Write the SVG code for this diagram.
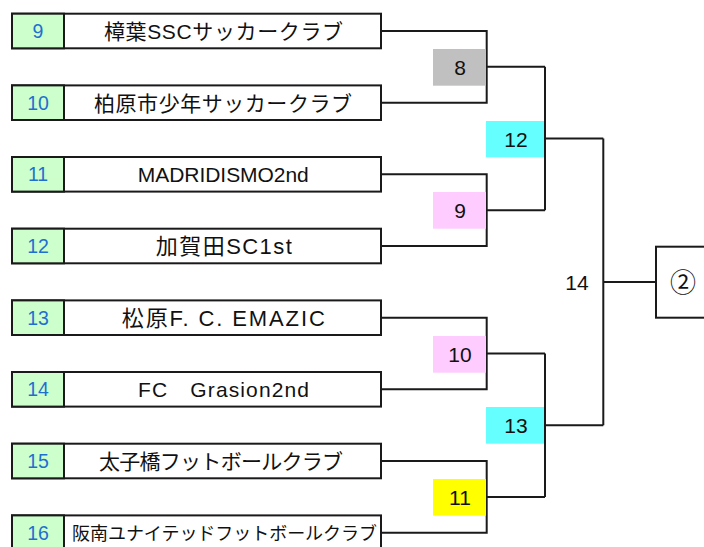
<svg xmlns="http://www.w3.org/2000/svg" width="704" height="547" viewBox="0 0 704 547">
<style>
.box{fill:#ffffff;stroke:#1a1a1a;stroke-width:2}
.num{fill:#ccffcc;stroke:#1a1a1a;stroke-width:2}
.nt{font-family:"Liberation Sans","Noto Sans CJK JP",sans-serif;font-size:19.5px;fill:#1f6fd1;text-anchor:middle}
.tt{font-family:"Liberation Sans","Noto Sans CJK JP",sans-serif;font-size:21px;fill:#111111;text-anchor:middle}
.sm{font-size:18px}
.lg{font-size:22px}
.lt{font-family:"Liberation Sans","Noto Sans CJK JP",sans-serif;font-size:21px;fill:#111111;text-anchor:middle}
.ci{font-family:"Noto Sans CJK JP",sans-serif;font-size:26px;fill:#111111;text-anchor:middle}
.ln{fill:none;stroke:#1a1a1a;stroke-width:2}
</style>
<rect width="704" height="547" fill="#ffffff"/>
<g id="team9"><rect class="box" x="12" y="13.7" width="369" height="34.6"/><rect class="num" x="12" y="13.7" width="52" height="34.6"/><text class="nt" x="38" y="38">9</text><text class="tt" x="223.5" y="39" textLength="239" lengthAdjust="spacing">樟葉SSCサッカークラブ</text></g>
<g id="team10"><rect class="box" x="12" y="85.4" width="369" height="34.6"/><rect class="num" x="12" y="85.4" width="52" height="34.6"/><text class="nt" x="38" y="109.7">10</text><text class="tt" x="223" y="110.7" textLength="258" lengthAdjust="spacing">柏原市少年サッカークラブ</text></g>
<g id="team11"><rect class="box" x="12" y="157" width="369" height="34.6"/><rect class="num" x="12" y="157" width="52" height="34.6"/><text class="nt" x="38" y="181.3">11</text><text class="tt" x="223.3" y="182" textLength="171" lengthAdjust="spacing">MADRIDISMO2nd</text></g>
<g id="team12"><rect class="box" x="12" y="228.7" width="369" height="34.6"/><rect class="num" x="12" y="228.7" width="52" height="34.6"/><text class="nt" x="38" y="253">12</text><text class="tt lg" x="223.8" y="254" textLength="136" lengthAdjust="spacing">加賀田SC1st</text></g>
<g id="team13"><rect class="box" x="12" y="300.4" width="369" height="34.6"/><rect class="num" x="12" y="300.4" width="52" height="34.6"/><text class="nt" x="38" y="324.7">13</text><text class="tt lg" x="223.3" y="325.7" textLength="203" lengthAdjust="spacing">松原F. C. EMAZIC</text></g>
<g id="team14"><rect class="box" x="12" y="372" width="369" height="34.6"/><rect class="num" x="12" y="372" width="52" height="34.6"/><text class="nt" x="38" y="396.3">14</text><text class="tt" x="223.5" y="397.3" textLength="171" lengthAdjust="spacing">FC　Grasion2nd</text></g>
<g id="team15"><rect class="box" x="12" y="443.7" width="369" height="34.6"/><rect class="num" x="12" y="443.7" width="52" height="34.6"/><text class="nt" x="38" y="468">15</text><text class="tt" x="221" y="469" textLength="244" lengthAdjust="spacing">太子橋フットボールクラブ</text></g>
<g id="team16"><rect class="box" x="12" y="515.4" width="369" height="34.6"/><rect class="num" x="12" y="515.4" width="52" height="34.6"/><text class="nt" x="38" y="539.7">16</text><text class="tt sm" x="224.5" y="540" textLength="305" lengthAdjust="spacing">阪南ユナイテッドフットボールクラブ</text></g>
<g id="connectors">
<path class="ln" d="M381 31H486.7V102.7H381M486.7 66.8H545"/>
<path class="ln" d="M381 174.3H486.7V246H381M486.7 210.2H545"/>
<path class="ln" d="M381 317.7H486.7V389.3H381M486.7 353.5H545"/>
<path class="ln" d="M381 461H486.7V532.7H381M486.7 496.9H545"/>
<path class="ln" d="M545 66.8V210.2M545 138.5H603.3"/>
<path class="ln" d="M545 353.5V496.9M545 425.2H603.3"/>
<path class="ln" d="M603.3 138.5V425.2M603.3 281.9H656"/>
</g>
<g id="match8"><rect x="433" y="49" width="53" height="36.7" fill="#c0c0c0"/><text class="lt" x="460" y="75">8</text></g>
<g id="match9"><rect x="433" y="192" width="53" height="36.7" fill="#ffccff"/><text class="lt" x="460" y="218">9</text></g>
<g id="match10"><rect x="433" y="336" width="53" height="36.7" fill="#ffccff"/><text class="lt" x="460" y="362">10</text></g>
<g id="match11"><rect x="433" y="479" width="53" height="36.7" fill="#ffff00"/><text class="lt" x="460" y="505">11</text></g>
<g id="match12"><rect x="486" y="121" width="58" height="36.3" fill="#66ffff"/><text class="lt" x="516" y="146.5">12</text></g>
<g id="match13"><rect x="486" y="407" width="58" height="36.7" fill="#66ffff"/><text class="lt" x="516" y="433">13</text></g>
<g id="match14"><text class="lt" x="577" y="289.5">14</text></g>
<g id="final"><rect class="box" x="656" y="246.7" width="60" height="71"/><text class="ci" x="683" y="291.5">②</text></g>
</svg>
